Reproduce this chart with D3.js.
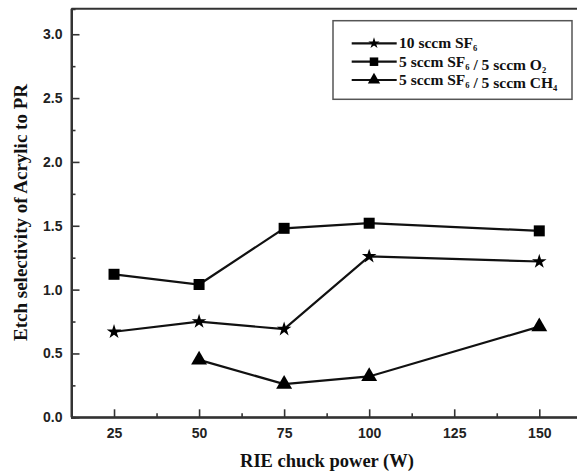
<!DOCTYPE html>
<html>
<head>
<meta charset="utf-8">
<script src="https://cdn.jsdelivr.net/npm/d3@7"></script>
<style>
  html, body { margin: 0; padding: 0; background: #fff; }
  svg { display: block; }
</style>
</head>
<body>
<svg id="chart" width="577" height="476"></svg>
<script>
// ---- data ----
const powers = [25, 50, 75, 100, 150];
const sf6 = [0.67, 0.75, 0.69, 1.26, 1.22];
const sf6o2 = [1.12, 1.04, 1.48, 1.52, 1.46];
const sf6ch4 = [null, 0.45, 0.26, 0.32, 0.71];
const xTicks = [25, 50, 75, 100, 125, 150];
const yTicks = [0.0, 0.5, 1.0, 1.5, 2.0, 2.5, 3.0];
const xMinor = [37.5, 62.5, 87.5, 112.5, 137.5];
const yMinor = [0.25, 0.75, 1.25, 1.75, 2.25, 2.75];
const seriesNames = ["10 sccm SF6", "5 sccm SF6 / 5 sccm O2", "5 sccm SF6 / 5 sccm CH4"];
const xTitle = "RIE chuck power (W)";
const yTitle = "Etch selectivity of Acrylic to PR";

const svg = d3.select("#chart");
const x = d3.scaleLinear().domain([12.5, 162.5]).range([71.5, 581.8]);
const y = d3.scaleLinear().domain([0, 3.2]).range([417.3, 8.7]);

const axisColor = "#333";
const tickFont = "'Liberation Sans', Arial, sans-serif";
const serif = "'Liberation Serif', 'Times New Roman', serif";

// frame top line
svg.append("line")
  .attr("x1", x(12.5)).attr("x2", x(162.5))
  .attr("y1", y(3.2)).attr("y2", y(3.2))
  .attr("stroke", axisColor).attr("stroke-width", 2);

// x axis
const gx = svg.append("g").attr("transform", `translate(0,${y(0)})`)
  .call(d3.axisBottom(x).tickValues(xTicks).tickSize(-8).tickPadding(11).tickFormat(d3.format("d")));
const gxm = svg.append("g").attr("transform", `translate(0,${y(0)})`)
  .call(d3.axisBottom(x).tickValues(xMinor).tickSize(-4).tickFormat(""));
// y axis
const gy = svg.append("g").attr("transform", `translate(${x(12.5)},0)`)
  .call(d3.axisLeft(y).tickValues(yTicks).tickSize(-8).tickPadding(9).tickFormat(d3.format(".1f")));
const gym = svg.append("g").attr("transform", `translate(${x(12.5)},0)`)
  .call(d3.axisLeft(y).tickValues(yMinor).tickSize(-4).tickFormat(""));

[gx, gxm, gy, gym].forEach(g => {
  g.select(".domain").attr("stroke", axisColor).attr("stroke-width", 2);
  g.selectAll(".tick line").attr("stroke", axisColor).attr("stroke-width", 1.6);
  g.selectAll(".tick text").attr("fill", "#222")
    .style("font-family", tickFont).style("font-size", "14px").style("font-weight", "bold");
});
gx.select(".domain").attr("d", `M${x(12.5)},0H${x(162.5)}`);
gy.select(".domain").attr("d", `M0,${y(0)}V${y(3.2)}`);

// axis titles
svg.append("text")
  .attr("x", 327).attr("y", 467)
  .attr("text-anchor", "middle")
  .style("font-family", serif).style("font-size", "18.5px").style("font-weight", "bold")
  .attr("fill", "#111")
  .text(xTitle);
svg.append("text")
  .attr("transform", `translate(26.5,${212.5}) rotate(-90)`)
  .attr("text-anchor", "middle")
  .style("font-family", serif).style("font-size", "19px").style("font-weight", "bold")
  .attr("fill", "#111")
  .text(yTitle);

// series
const symbols = [d3.symbolStar, d3.symbolSquare, d3.symbolTriangle];
const sizes = [66, 121, 110];
const allSeries = [sf6, sf6o2, sf6ch4];
const line = d3.line()
  .defined(d => d.v !== null)
  .x(d => x(d.p)).y(d => y(d.v));

allSeries.forEach((vals, i) => {
  const pts = powers.map((p, j) => ({ p, v: vals[j] })).filter(d => d.v !== null);
  svg.append("path").datum(pts)
    .attr("d", line)
    .attr("fill", "none").attr("stroke", "#111").attr("stroke-width", 2.2);
  svg.selectAll(null).data(pts).enter().append("path")
    .attr("transform", d => `translate(${x(d.p)},${y(d.v)})`)
    .attr("d", d3.symbol().type(symbols[i]).size(sizes[i]))
    .attr("fill", "#000");
});

// legend
const lg = svg.append("g");
lg.append("rect")
  .attr("x", 333).attr("y", 20.7).attr("width", 239).attr("height", 78.6)
  .attr("fill", "#fff").attr("stroke", "#555").attr("stroke-width", 1.5);
const rowsY = [43.3, 61.7, 80];
const legendParts = [
  [["10 sccm SF", ""], ["6", "sub"]],
  [["5 sccm SF", ""], ["6", "sub"], [" / 5 sccm O", ""], ["2", "sub"]],
  [["5 sccm SF", ""], ["6", "sub"], [" / 5 sccm CH", ""], ["4", "sub"]]
];
rowsY.forEach((ry, i) => {
  lg.append("line").attr("x1", 351.7).attr("x2", 396.7).attr("y1", ry).attr("y2", ry)
    .attr("stroke", "#111").attr("stroke-width", 2.2);
  lg.append("path").attr("transform", `translate(374,${ry})`)
    .attr("d", d3.symbol().type(symbols[i]).size(sizes[i] * 0.6)).attr("fill", "#000");
  const t = lg.append("text").attr("x", 399).attr("y", ry + 5)
    .style("font-family", serif).style("font-size", "15.5px").style("font-weight", "bold")
    .attr("fill", "#111");
  legendParts[i].forEach(([txt, kind]) => {
    if (kind === "sub") {
      t.append("tspan").attr("dy", 3).style("font-size", "8.5px").text(txt);
      t.append("tspan").attr("dy", -3).text("");
    } else {
      t.append("tspan").text(txt);
    }
  });
});
</script>
</body>
</html>
